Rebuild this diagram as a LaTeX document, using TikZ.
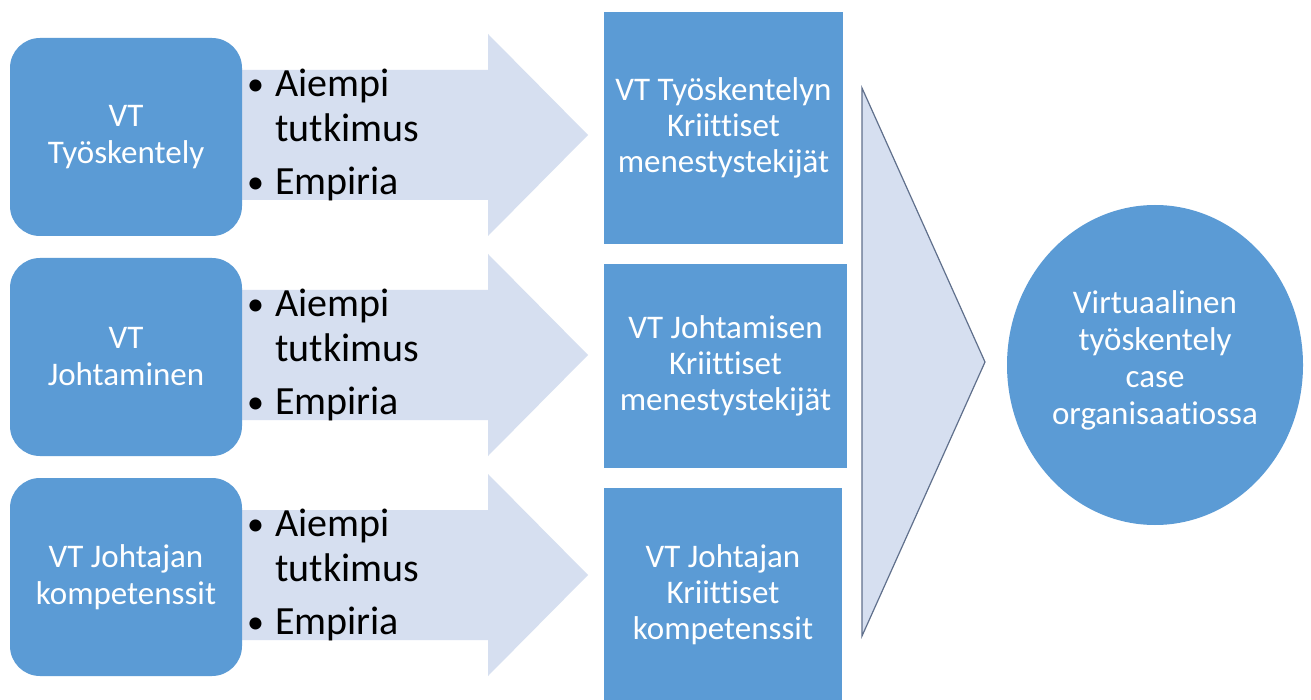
\documentclass[tikz,border=0pt]{standalone}
\usepackage{fontspec}
\setmainfont[Ligatures={NoCommon,NoContextual}]{Carlito}
\usetikzlibrary{shapes.geometric}
\definecolor{boxblue}{RGB}{91,155,213}
\definecolor{arrowfill}{RGB}{214,223,240}
\definecolor{chevline}{RGB}{96,112,140}
\begin{document}
\begin{tikzpicture}[x=1pt,y=-1pt,
  srcbox/.style={draw=none,fill=boxblue,rounded corners=30pt,minimum width=232pt,minimum height=198pt,inner sep=0pt,text=white,align=center,font=\fontsize{33}{37}\selectfont},
  resbox/.style={draw=none,fill=boxblue,inner sep=0pt,text=white,align=center,font=\fontsize{33}{36}\selectfont},
  bigarrow/.style={fill=arrowfill,draw=none},
  bullets/.style={inner sep=0pt,anchor=west,align=left,text=black,font=\fontsize{40}{45}\selectfont}]
\useasboundingbox (0,0) rectangle (1311,700);
\fill[white] (0,0) rectangle (1311,700);
\newcommand{\bul}{\makebox[29pt][l]{\hspace{1pt}\raisebox{1pt}{\fontsize{34}{34}\selectfont\textbullet}}}
\newcommand{\bulgap}{\makebox[29pt][l]{}}
% arrows
\foreach \t in {36,256,476}{
  \path[bigarrow] (230,\t+34) -- (488,\t+34) -- (488,\t-2) -- (588,\t+99) -- (488,\t+200) -- (488,\t+164) -- (230,\t+164) -- cycle;
}
% source boxes
\node[srcbox] (s1) at (126,137) {VT\\Työskentely};
\node[srcbox] (s2) at (126,357) {VT\\Johtaminen};
\node[srcbox] (s3) at (126,577) {VT Johtajan\\kompetenssit};
% bullet texts
\foreach \t/\n in {36/b1,256/b2,476/b3}{
  \node[bullets] (\n) at (246,\t+99) {\bul Aiempi\\\bulgap tutkimus\\[8pt]\bul Empiria};
}
% result boxes
\node[resbox,minimum width=239pt,minimum height=232pt] (r1) at (723.5,128) {VT Työskentelyn\\Kriittiset\\menestystekijät};
\node[resbox,minimum width=243pt,minimum height=204pt] (r2) at (725.5,366) {VT Johtamisen\\Kriittiset\\menestystekijät};
\node[resbox,minimum width=238pt,minimum height=214pt] (r3) at (723,595) {VT Johtajan\\Kriittiset\\kompetenssit};
% chevron
\coordinate (ct) at (862,88);
\coordinate (cp) at (985,362);
\coordinate (cb) at (862,636);
\draw[fill=arrowfill,draw=chevline,line width=1.2pt,line join=miter] (ct) -- (cp) -- (cb) -- cycle;
% ellipse
\node[ellipse,fill=boxblue,draw=none,minimum width=296pt,minimum height=320pt,inner sep=0pt,text=white,align=center,font=\fontsize{33}{37}\selectfont] (goal) at (1155,365) {Virtuaalinen\\työskentely\\case\\organisaatiossa\\[-22pt]};
\end{tikzpicture}
\end{document}
